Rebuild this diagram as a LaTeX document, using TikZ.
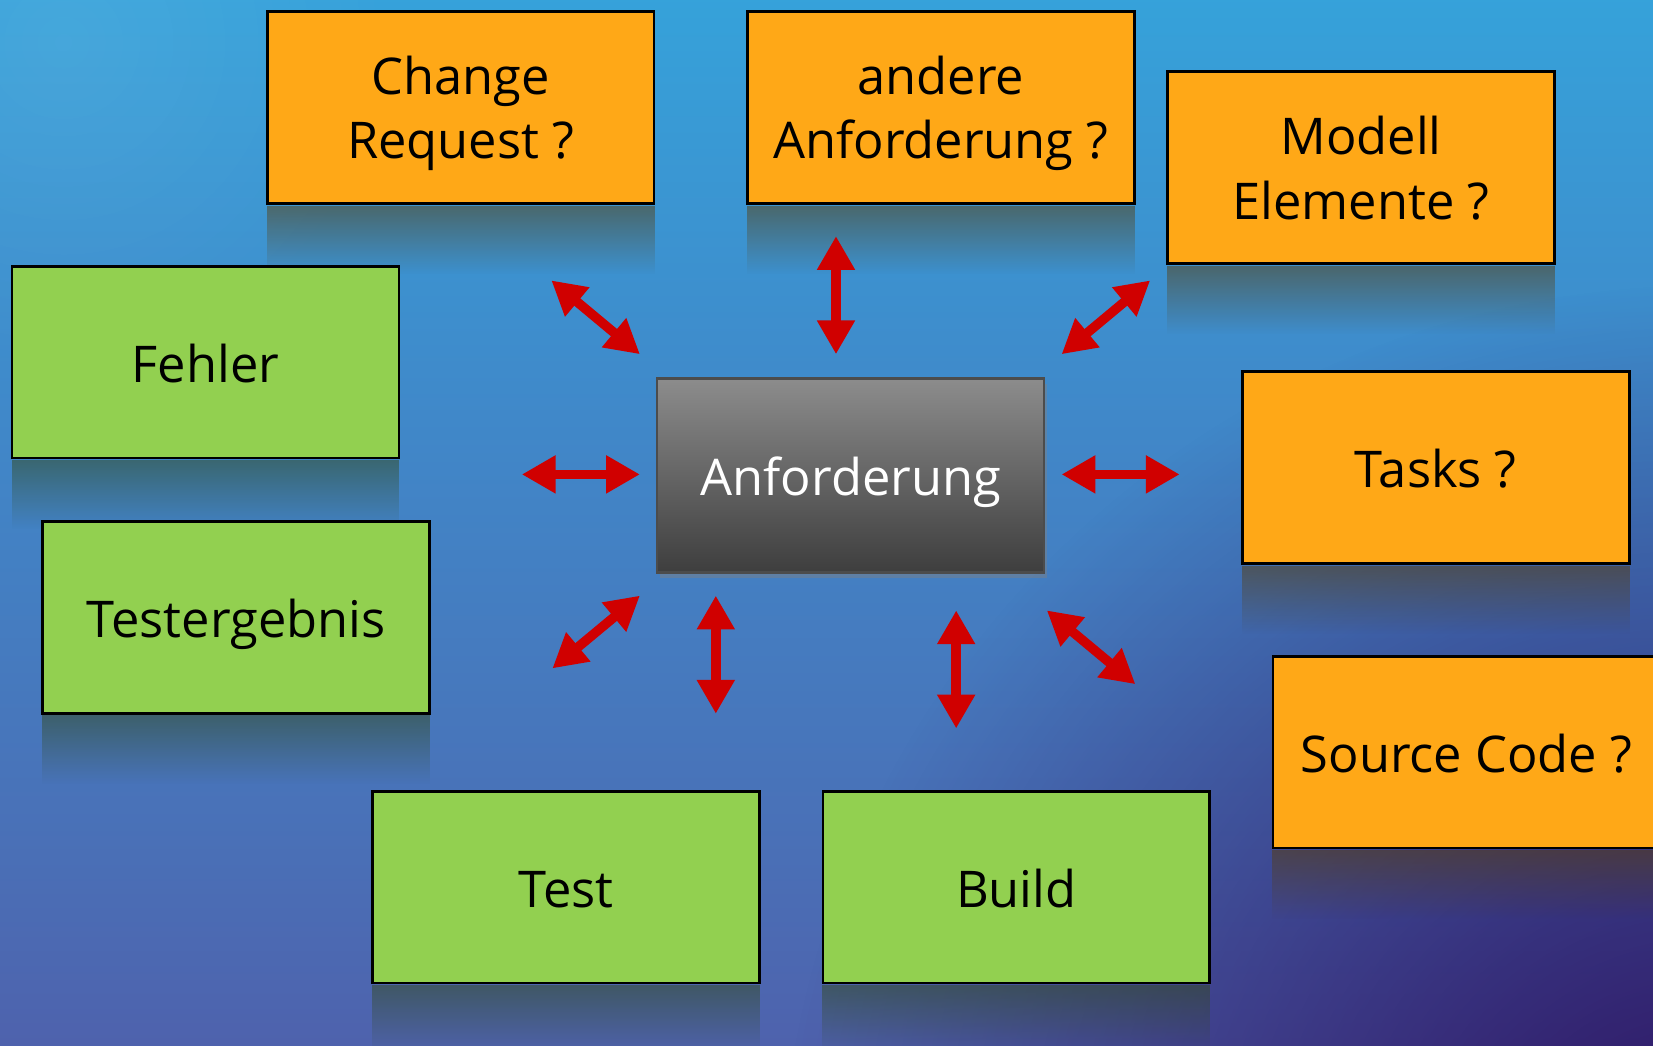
\documentclass[tikz,border=0pt]{standalone}
\usepackage{fontspec}
\setmainfont{Open Sans}
\usetikzlibrary{arrows.meta,shadows,fadings,calc}
\definecolor{bg0}{HTML}{2DB9EA}
\definecolor{bg1}{HTML}{33A8DE}
\definecolor{bg2}{HTML}{4088C9}
\definecolor{bg3}{HTML}{4A6FB6}
\definecolor{bg4}{HTML}{5352A2}
\definecolor{bg5}{HTML}{402C84}
\definecolor{bgdark}{HTML}{280A58}
\definecolor{orng}{HTML}{FFA817}
\definecolor{grn}{HTML}{92D050}
\definecolor{arrred}{HTML}{D00000}
\definecolor{antop}{HTML}{8C8C8C}
\definecolor{anbot}{HTML}{3E3E3E}
\pgfdeclareverticalshading{bgshade}{100bp}{color(0bp)=(bg5); color(14bp)=(bg4); color(34bp)=(bg3); color(55bp)=(bg2); color(80bp)=(bg1); color(100bp)=(bg0)}
\tikzfading[name=softcirc, inner color=transparent!0, outer color=transparent!100]
\begin{document}
\begin{tikzpicture}[x=1pt,y=-1pt,
  box/.style={draw=black, line width=2.5pt, minimum width=367pt, minimum height=182pt, inner sep=0pt, align=center, font=\fontsize{48}{60.8}\selectfont, text=black},
  one/.style={text height=50pt, text depth=12pt},
  two/.style={text height=110pt, text depth=12.4pt},
  obox/.style={box, fill=orng},
  gbox/.style={box, fill=grn},
  refl/.style={fill=#1!35!black, opacity=0.5, path fading=south},
  arr/.style={draw=arrred, line width=9pt, {Triangle[length=32pt,width=34pt]}-{Triangle[length=32pt,width=34pt]}},
]
\useasboundingbox (0,0) rectangle (1568,991.3);
% background
\shade[shading=bgshade] (0,0) rectangle (1568,991.3);
\fill[bgdark, opacity=0.9, path fading=softcirc] (1620,1150) circle (880);
\fill[white, opacity=0.08, path fading=softcirc] (60,40) circle (320);

% boxes (positions)
\coordinate (pcr) at (437,102);
\coordinate (paa) at (892.5,102);
\coordinate (pme) at (1291,159);
\coordinate (pta) at (1362,443.5);
\coordinate (psc) at (1391,713.5);
\coordinate (pfe) at (195,343.5);
\coordinate (pte) at (224,585.5);
\coordinate (ptst) at (537,841.5);
\coordinate (pbu) at (964,841.5);

% reflections
\foreach \p/\c in {pcr/orng,paa/orng,pme/orng,pta/orng,psc/orng,pfe/grn,pte/grn,ptst/grn,pbu/grn}{
  \fill[refl=\c] ($(\p)+(-184,93)$) rectangle ($(\p)+(184,158)$);
}

\node[obox, two] (cr) at (pcr) {Change\\Request ?};
\node[obox, two] (aa) at (paa) {andere\\Anforderung ?};
\node[obox, two] (me) at (pme) {Modell\\Elemente ?};
\node[obox, one] (ta) at (pta) {Tasks ?};
\node[obox, one] (sc) at (psc) {Source Code ?};
\node[gbox, one] (fe) at (pfe) {Fehler};
\node[gbox, one] (te) at (pte) {Testergebnis};
\node[gbox, one] (tst) at (ptst) {Test};
\node[gbox, one] (bu) at (pbu) {Build};

\node[box, one, draw=black!70, line width=2pt, top color=antop, bottom color=anbot, text=white,
  minimum height=184pt,
  drop shadow={shadow xshift=3pt, shadow yshift=-5pt, opacity=0.45}] (an) at (807,451) {Anforderung};

% arrows
\coordinate (a1s) at (523,266);  \coordinate (a1e) at (607,336);
\coordinate (a2s) at (793,224);  \coordinate (a2e) at (793,336);
\coordinate (a3s) at (1091,266); \coordinate (a3e) at (1007,336);
\coordinate (a4s) at (495,450);  \coordinate (a4e) at (607,450);
\coordinate (a5s) at (1007,450); \coordinate (a5e) at (1119,450);
\coordinate (a6s) at (607,565);  \coordinate (a6e) at (524,634);
\coordinate (a7s) at (679,565);  \coordinate (a7e) at (679,677);
\coordinate (a8s) at (907,579);  \coordinate (a8e) at (907,691);
\coordinate (a9s) at (993,579);  \coordinate (a9e) at (1077,649);
\foreach \i in {1,...,9}{
  \draw[arr] (a\i s) -- (a\i e);
}
\end{tikzpicture}
\end{document}
